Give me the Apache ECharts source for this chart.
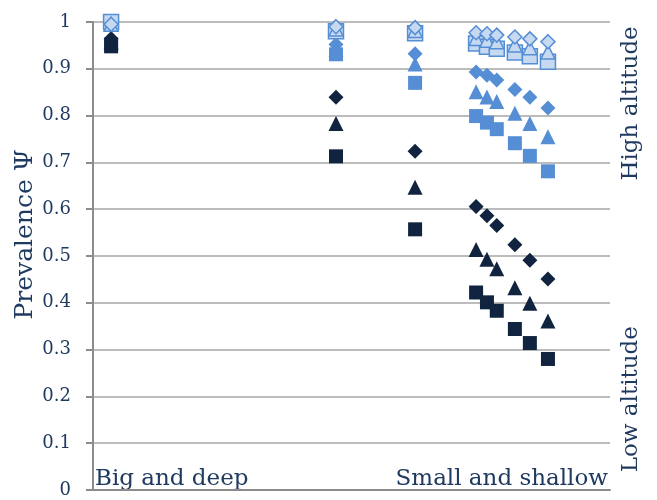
<!DOCTYPE html>
<html><head><meta charset="utf-8">
<script src="https://cdn.jsdelivr.net/npm/echarts@6/dist/echarts.min.js"></script>
<style>html,body{margin:0;padding:0;background:#fff}#c{width:657px;height:500px}</style>
</head><body><div id="c"></div>
<script>
// x positions (relative lake size index, 0-100)
const xPos = [3.5, 47.0, 62.3, 74.1, 76.2, 78.1, 81.6, 84.5, 88.0];
// High altitude (light fill)
const highDiamond  = [0.995, 0.990, 0.988, 0.977, 0.975, 0.972, 0.968, 0.964, 0.958];
const highTriangle = [0.995, 0.985, 0.982, 0.965, 0.961, 0.958, 0.951, 0.945, 0.936];
const highSquare   = [1.000, 0.980, 0.976, 0.954, 0.947, 0.943, 0.935, 0.927, 0.915];
// Mid altitude (medium blue)
const midDiamond   = [0.962, 0.952, 0.932, 0.893, 0.886, 0.876, 0.856, 0.839, 0.816];
const midTriangle  = [0.958, 0.942, 0.910, 0.851, 0.840, 0.830, 0.805, 0.783, 0.755];
const midSquare    = [0.952, 0.931, 0.870, 0.799, 0.785, 0.771, 0.741, 0.714, 0.681];
// Low altitude (dark navy)
const lowDiamond   = [0.965, 0.839, 0.724, 0.606, 0.586, 0.565, 0.524, 0.491, 0.451];
const lowTriangle  = [0.956, 0.783, 0.647, 0.514, 0.493, 0.473, 0.432, 0.399, 0.361];
const lowSquare    = [0.948, 0.713, 0.557, 0.422, 0.401, 0.383, 0.344, 0.314, 0.280];
const yTicks = [0, 0.1, 0.2, 0.3, 0.4, 0.5, 0.6, 0.7, 0.8, 0.9, 1];
const xLabels = ['Big and deep', 'Small and shallow'];
const sideLabels = ['High altitude', 'Low altitude'];
const yName = 'Prevalence Ψ';

const TXT = '#1f3a60';
const FONT = 'DejaVu Serif';
const DARK = '#10243f', MID = '#558ed5', LIGHT = '#c6d9f1';

function pts(arr){ return arr.map((v,i)=>[xPos[i], v]); }
function ser(name, arr, symbol, fill, border, size){
  return {name, type:'scatter', data:pts(arr), symbol, symbolSize:size,
    itemStyle:{color:fill, borderColor:border, borderWidth: border===fill?0:1.5, opacity:1}};
}
const chart = echarts.init(document.getElementById('c'), null, {renderer:'canvas'});
const option = {
  animation:false,
  grid:{left:93, right:47, top:22, bottom:10, containLabel:false},
  xAxis:{type:'value', min:0, max:100, axisLine:{show:true, lineStyle:{color:'#8c8c8c', width:2}},
    axisTick:{show:false}, axisLabel:{show:false}, splitLine:{show:false}},
  yAxis:{type:'value', min:0, max:1, interval:0.1,
    axisLine:{show:true, lineStyle:{color:'#8c8c8c', width:2}},
    axisTick:{show:true, inside:false, length:7, lineStyle:{color:'#8c8c8c', width:2}},
    axisLabel:{color:TXT, fontFamily:FONT, fontSize:18, margin:22,
      formatter:v=>{const t=yTicks.find(x=>Math.abs(x-v)<1e-6); return t===undefined?'':String(t);}},
    splitLine:{show:true, lineStyle:{color:'#a6a6a6', width:1.5}}},
  series:[
    ser('Mid square', midSquare, 'rect', MID, MID, 14),
    ser('Mid triangle', midTriangle, 'triangle', MID, MID, 15),
    ser('Mid diamond', midDiamond, 'diamond', MID, MID, 15),
    ser('Low square', lowSquare, 'rect', DARK, DARK, 14),
    ser('Low triangle', lowTriangle, 'triangle', DARK, DARK, 15),
    ser('Low diamond', lowDiamond, 'diamond', DARK, DARK, 15),
    ser('High square', highSquare, 'rect', LIGHT, MID, 15),
    ser('High triangle', highTriangle, 'triangle', LIGHT, MID, 14),
    ser('High diamond', highDiamond, 'diamond', LIGHT, MID, 14)
  ]
};
chart.setOption(option);
const p0 = chart.convertToPixel({gridIndex:0}, [0, 0]);
const p1 = chart.convertToPixel({gridIndex:0}, [100, 1]);
const pHi = chart.convertToPixel({gridIndex:0}, [100, 0.826]);
const pLo = chart.convertToPixel({gridIndex:0}, [100, 0.194]);
const pName = chart.convertToPixel({gridIndex:0}, [0, 0.546]);
chart.setOption({graphic:[
  {type:'text', x:p0[0]+2, y:p0[1]+1, style:{text:xLabels[0], fill:TXT, font:'23px "'+FONT+'"', align:'left', verticalAlign:'bottom'}},
  {type:'text', x:p1[0]-2, y:p0[1]+1, style:{text:xLabels[1], fill:TXT, font:'23px "'+FONT+'"', align:'right', verticalAlign:'bottom'}},
  {type:'text', x:pHi[0]+21, y:pHi[1], rotation:Math.PI/2, style:{text:sideLabels[0], fill:TXT, font:'23px "'+FONT+'"', align:'center', verticalAlign:'middle'}},
  {type:'text', x:pLo[0]+21, y:pLo[1], rotation:Math.PI/2, style:{text:sideLabels[1], fill:TXT, font:'23px "'+FONT+'"', align:'center', verticalAlign:'middle'}},
  {type:'text', x:25, y:pName[1], rotation:Math.PI/2, style:{text:yName, fill:TXT, font:'25px "'+FONT+'"', align:'center', verticalAlign:'middle'}}
]});
</script></body></html>
